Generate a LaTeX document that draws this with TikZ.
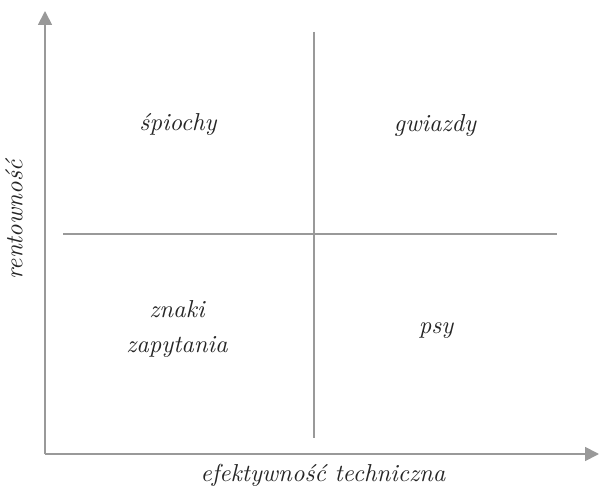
\documentclass[tikz,border=0pt]{standalone}
\usetikzlibrary{arrows.meta}
\definecolor{axisgray}{HTML}{999999}
\newcommand{\bigit}[1]{\scalebox{2.45}{\fontsize{10}{12}\selectfont\itshape #1}}
\begin{document}
\begin{tikzpicture}[x=1pt,y=-1pt,
  axis/.style={draw=axisgray,line width=1.8pt,-{Triangle[length=14pt,width=14pt]}},
  divider/.style={draw=axisgray,line width=1.5pt},
  lbl/.style={text=black!85,align=center,inner sep=0pt}]
\useasboundingbox (0,0) rectangle (600,486);
\coordinate (o) at (45,454);
\coordinate (ytop) at (45,11);
\coordinate (xend) at (599,454);
\coordinate (vt) at (314,32);
\coordinate (vb) at (314,438);
\coordinate (hl) at (63,234);
\coordinate (hr) at (557,234);
\draw[axis] (o) -- (ytop);
\draw[axis] (o) -- (xend);
\draw[divider] (vt) -- (vb);
\draw[divider] (hl) -- (hr);
\node[lbl] (q1) at (178,124) {\bigit{śpiochy}};
\node[lbl] (q2) at (435,126) {\bigit{gwiazdy}};
\node[lbl] (q3) at (177,329) {\bigit{\begin{tabular}{@{}c@{}}znaki\\[2.4pt]zapytania\end{tabular}}};
\node[lbl] (q4) at (436,331) {\bigit{psy}};
\node[lbl,rotate=90] (ylab) at (14,220) {\bigit{rentowność}};
\node[lbl] (xlab) at (323,475) {\bigit{efektywność techniczna}};
\end{tikzpicture}
\end{document}
